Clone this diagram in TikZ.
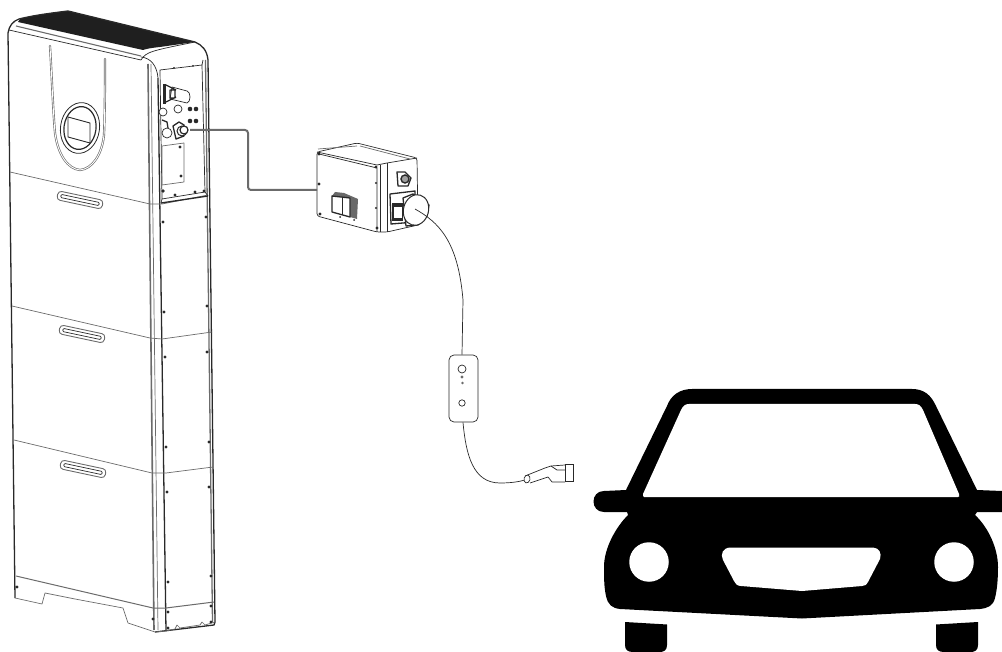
\documentclass[tikz,border=0pt]{standalone}
\usetikzlibrary{shapes.geometric}
\definecolor{ink}{gray}{0.16}
\definecolor{soft}{gray}{0.42}
\tikzset{
  thinl/.style={draw=ink,line width=0.7pt,line join=round},
  softl/.style={draw=soft,line width=0.7pt,line join=round},
  heavy/.style={draw=ink,line width=1.3pt,line join=round},
  screw/.style={circle,fill=ink,inner sep=0pt,minimum size=3.2pt},
  bigdot/.style={circle,fill=ink,inner sep=0pt,minimum size=4.6pt},
  ringnode/.style={circle,draw=ink,line width=0.7pt,fill=white,inner sep=0pt},
  handlebar/.style={draw=soft,line width=0.9pt,rounded corners=3.5pt,inner sep=0pt,minimum width=46pt,minimum height=9pt,rotate=-12},
  handleslot/.style={draw=ink,line width=0.7pt,rounded corners=1pt,inner sep=0pt,minimum width=39pt,minimum height=3.2pt,rotate=-12},
  cablecore/.style={draw=soft,line width=2pt,line join=round},
  thincable/.style={draw=ink,line width=0.7pt},
  carfill/.style={fill=black,draw=none},
  carhole/.style={fill=white,draw=none},
}
\begin{document}
\begin{tikzpicture}[x=1pt,y=-1pt]
\useasboundingbox (0,0) rectangle (1002,652);
% ---------- storage stack: outline
\fill[black!88] (20,19) .. controls (30,16) and (50,13) .. (68,11) -- (195,42) -- (160,47) .. controls (150,48) and (146,49) .. (143,50) -- (18,22) -- cycle;
\draw[heavy] (8,33) .. controls (9,26) and (13,21) .. (19,19) .. controls (35,15) and (52,13) .. (68,11) -- (195,42) .. controls (202,45) and (207,50) .. (208,60) -- (215,622) -- (214,625) -- (155,632);
\draw[heavy] (8,33) -- (15,598);
\draw[thinl] (9,30) -- (141,60);
\draw[softl,line width=1.1pt] (16,26) -- (141,56);
\draw[thinl] (141,60) .. controls (146,52) and (150,51) .. (195,42);
\draw[thinl] (141,57) .. controls (151,58) and (157,66) .. (158,78);
% front/side strip
\draw[softl,line width=1.6pt] (148,64) -- (154,630);
\draw[heavy] (158,78) -- (166,631);
\draw[softl] (151,64) -- (158,630);
\draw[softl,line width=1.3pt] (205.5,60) -- (212.5,622);
% seams
\draw[softl] (10,172) -- (150,204) -- (162,204) -- (208,195);
\draw[softl] (12,306) -- (150,338) -- (162,339) -- (212,332);
\draw[softl] (14,440) -- (152,473) -- (166,473) -- (213,467);
\draw[softl,line width=1pt] (16,576) -- (153,608) -- (166,608) -- (214,602);
% base
\draw[softl] (15,598) -- (42,604) -- (45,593) -- (75,599) -- (123,608) -- (128,623) -- (155,632) -- (166,631) -- (175,629) -- (177,625) -- (180,628) -- (200,625) -- (202,622) -- (205,625) -- (215,622);
% handles
\node[handlebar] (hA) at (80,200) {}; \node[handleslot] (sA) at (80,200) {};
\node[handlebar] (hB) at (82,334) {}; \node[handleslot] (sB) at (82,334) {};
\node[handlebar] (hC) at (83,469) {}; \node[handleslot] (sC) at (83,469) {};
% display
\draw[draw=soft,line width=2.2pt,line cap=round] (50,46) .. controls (52,80) and (53,110) .. (55,133) .. controls (58,155) and (68,169) .. (80,170) .. controls (92,169) and (102,155) .. (104,135) .. controls (105,110) and (105,80) .. (105,59);
\draw[draw=white,line width=0.9pt,line cap=round] (50,46) .. controls (52,80) and (53,110) .. (55,133) .. controls (58,155) and (68,169) .. (80,170) .. controls (92,169) and (102,155) .. (104,135) .. controls (105,110) and (105,80) .. (105,59);
\node[ellipse,draw=ink,line width=0.8pt,inner sep=0pt,minimum width=39pt,minimum height=51pt,rotate=-8] (ringA) at (80,128) {};
\node[ellipse,draw=ink,line width=1.2pt,inner sep=0pt,minimum width=32pt,minimum height=43pt,rotate=-8] (ringB) at (80,128) {};
\draw[thinl,line width=0.9pt] (68,117) -- (90,123) -- (90,143) -- (68,137) -- cycle;
% side service bay
\draw[thinl] (160,70) -- (202,65) -- (205,192) -- (162,199) -- cycle;
\draw[thinl] (202,65) -- (203,60);
\draw[heavy] (161,203) -- (208,196);
\draw[thinl] (162,199) -- (161,203) (205,192) -- (208,196);
\node[screw,minimum size=2pt] (tA) at (174,68) {};
\node[screw,minimum size=2pt] (tB) at (193,66) {};
% big connector
\draw[thinl,fill=white] (172,87) -- (187,91) .. controls (191,92) and (191,102) .. (187,103) -- (170,99) -- cycle;
\fill[ink] (163,84) rectangle (166,104);
\draw[heavy] (166,85) -- (176,90) (166,102) -- (176,97) (170,90) rectangle (175,98);
\node[ringnode,minimum size=8pt] (cA) at (163,112) {};
\node[ringnode,minimum size=8pt] (cB) at (178,109) {};
\node[bigdot] (dA) at (190,109) {};
\node[bigdot] (dB) at (196,109) {};
\node[bigdot] (dC) at (190,121) {};
\node[bigdot] (dD) at (196,121) {};
% AC plugs
\draw[heavy] (162,120) -- (167,122) -- (168,128);
\node[ringnode,minimum size=10pt] (plugL) at (167,133) {};
\draw[heavy,fill=white] (173,126) -- (179,122) -- (184,125) -- (184,136) -- (176,139) -- cycle;
\node[ringnode,line width=1pt,minimum size=10pt] (plugR) at (182,131) {};
% plate
\draw[softl] (162,146) -- (184,143) -- (184,182) -- (162,185) -- cycle;
\node[screw] (pA) at (180,147) {};
\node[screw] (pB) at (181,176) {};
\node[bigdot,minimum size=3.6pt] (bA) at (163,191) {};
\node[screw] (bB) at (175,195) {};
\node[screw] (bC) at (195,192) {};
\node[screw] (bD) at (204,191) {};
% side screws
\node[screw] (s1) at (163,222) {};
\node[screw] (s2) at (206,217) {};
\node[screw] (s3) at (164,312) {};
\node[screw] (s4) at (207,306) {};
\node[screw] (s5) at (165,357) {};
\node[screw] (s6) at (207,352) {};
\node[screw] (s7) at (166,447) {};
\node[screw] (s8) at (209,442) {};
\node[screw] (s9) at (167,492) {};
\node[screw] (s10) at (209,487) {};
\node[screw] (s11) at (168,582) {};
\node[screw] (s12) at (211,576) {};
\node[screw] (s13) at (168,612) {};
\node[screw] (s14) at (211,606) {};
\node[screw] (s15) at (168,628) {};
\node[screw] (s16) at (211,622) {};
\node[screw] (s17) at (153,619) {};
\node[screw] (s18) at (17,587) {};
% ---------- isolator box
\draw[thinl,fill=white,rounded corners=2.5pt] (317,152) -- (357,143) -- (417,158) -- (418,225) -- (387,232) -- (377,232) -- (317,216) -- cycle;
\draw[thinl] (319,154) -- (377,168) -- (377,232);
\draw[thinl] (317,152) -- (377,165) -- (387,163) -- (417,158);
\draw[thinl] (387,163) -- (387,232) (380,165) -- (380,232);
\draw[softl] (318,149) -- (357,146) (360,146) -- (410,159);
\node[screw] (k1) at (319,154) {};
\node[screw] (k2) at (376,167) {};
\node[screw] (k3) at (320,214) {};
\node[screw] (k4) at (377,228) {};
\node[screw] (k5) at (319,184) {};
\node[screw,minimum size=2.2pt] (k6) at (376,208) {};
\node[screw,minimum size=2.2pt] (k9) at (376,183) {};
% switch
\fill[ink!70] (335,192) -- (344,193) -- (358,199) -- (357,219) -- (350,217) -- (350,198) -- (332,196) -- cycle;
\draw[heavy,fill=white] (332,196) -- (350,198) -- (350,217) -- (332,212) -- cycle;
\draw[thinl] (342,197) -- (342,215);
\node[screw,minimum size=2pt] (k7) at (340,217) {};
\node[screw,minimum size=2pt] (k8) at (354,220) {};
% upper socket
\draw[heavy,fill=white] (397,172) -- (405,172) -- (411,178) -- (408,186) -- (398,186) -- cycle;
\node[circle,draw=ink,line width=1.4pt,fill=ink!45,inner sep=0pt,minimum size=8pt] (sockU) at (405,179) {};
% lower socket
\draw[heavy,fill=white] (390,194) -- (415,191) -- (415,222) -- (391,224) -- cycle;
\fill[ink] (392,203) rectangle (403,221);
\fill[white] (394,207) rectangle (402,218);
\draw[heavy,fill=white] (403,198) -- (413,194) -- (429,205) -- (427,216) -- (418,225) -- (406,226) -- cycle;
\node[ellipse,draw=ink,line width=1pt,fill=white,inner sep=0pt,minimum width=25pt,minimum height=31pt,rotate=-15] (sockL) at (416,210) {};
% ---------- cables
\coordinate (portOut) at (190,130);
\coordinate (bendA) at (248,130);
\coordinate (bendB) at (248,190);
\coordinate (boxIn) at (317,190);
\draw[cablecore,rounded corners=3pt] (portOut) -- (bendA) -- (bendB) -- (boxIn);
\node[circle,draw=ink,line width=1.2pt,fill=white,inner sep=0pt,minimum size=8pt] (portRing) at (184,130) {};
% controller
\coordinate (plugCentre) at (415,209);
\node[draw=ink,line width=0.7pt,rounded corners=5pt,inner sep=0pt,minimum width=29pt,minimum height=67pt] (ctrl) at (463.5,388.5) {};
\node[circle,draw=ink,line width=0.7pt,inner sep=0pt,minimum size=8pt] (ledA) at (462,369) {};
\node[circle,fill=soft,inner sep=0pt,minimum size=3.2pt] (ledB) at (462,377) {};
\node[circle,fill=soft,inner sep=0pt,minimum size=2.6pt] (ledC) at (462.5,383) {};
\node[circle,draw=ink,line width=0.7pt,inner sep=0pt,minimum size=6.4pt] (btn) at (462,403) {};
\draw[thincable] (plugCentre) .. controls (438,222) and (458,240) .. (463,300) -- (ctrl.north -| 462,355);
% EV connector
\coordinate (evTail) at (525,480);
\draw[thincable] (ctrl.south -| 463,422) .. controls (466,455) and (473,483) .. (500,483) .. controls (510,483) and (518,482) .. (evTail);
\draw[thinl] (525,476) -- (545,468) -- (551,466) -- (565,465);
\draw[thinl] (530,483) -- (548,477) -- (552,482) -- (565,482);
\draw[thinl] (551,466) -- (557,470) -- (565,470);
\node[ellipse,draw=ink,line width=0.7pt,fill=white,inner sep=0pt,minimum width=6pt,minimum height=8pt,rotate=-15] (evHead) at (527,479) {};
\node[draw=ink,line width=0.8pt,inner sep=0pt,minimum width=8pt,minimum height=17pt] (evEnd) at (569,473) {};
% ---------- car
\fill[carfill] (626,490) -- (667,406) .. controls (671,395) and (680,389) .. (692,389) -- (912,389) .. controls (924,389) and (931,395) .. (936,406) -- (977,490) -- (1002,491) -- (1002,512) -- (977,512) -- (975,515) .. controls (988,527) and (998,548) .. (998,567) .. controls (998,580) and (997,590) .. (995,598) .. controls (993,606) and (988,608) .. (980,609) -- (802,618.5) -- (620,609) .. controls (612,608) and (608,605) .. (606,596) .. controls (604,587) and (604,577) .. (604,567) .. controls (604,548) and (616,527) .. (628,515) -- (627,512) -- (604,512) .. controls (590,512) and (590,491) .. (604,491) -- cycle;
\fill[carhole] (644,497) .. controls (643,497) and (643,495) .. (643,494) -- (681,410) .. controls (683,406) and (685,404) .. (689,404) -- (915,404) .. controls (919,404) and (921,406) .. (923,410) -- (959,494) .. controls (960,496) and (959,497) .. (958,497) -- cycle;
\node[circle,fill=white,inner sep=0pt,minimum size=39.5pt] (lampL) at (649,562) {};
\node[circle,fill=white,inner sep=0pt,minimum size=39.5pt] (lampR) at (954,562) {};
\fill[carhole] (730,547.5) -- (873,547.5) .. controls (879,548) and (882,553) .. (880,559) -- (868,582) .. controls (866,585) and (865,586) .. (862,586) -- (802,591) -- (741,586) .. controls (737,586) and (736,584) .. (734,581) -- (723,560) .. controls (720,554) and (723,548) .. (730,547.5) -- cycle;
\fill[carfill] (625,622) -- (667,624.5) -- (667,645) .. controls (667,650) and (664,652) .. (660,652) -- (633,652) .. controls (628,652) and (625,650) .. (625,645) -- cycle;
\fill[carfill] (936,624.5) -- (978,622) -- (978,645) .. controls (978,650) and (975,652) .. (971,652) -- (944,652) .. controls (939,652) and (936,650) .. (936,645) -- cycle;
\end{tikzpicture}
\end{document}
